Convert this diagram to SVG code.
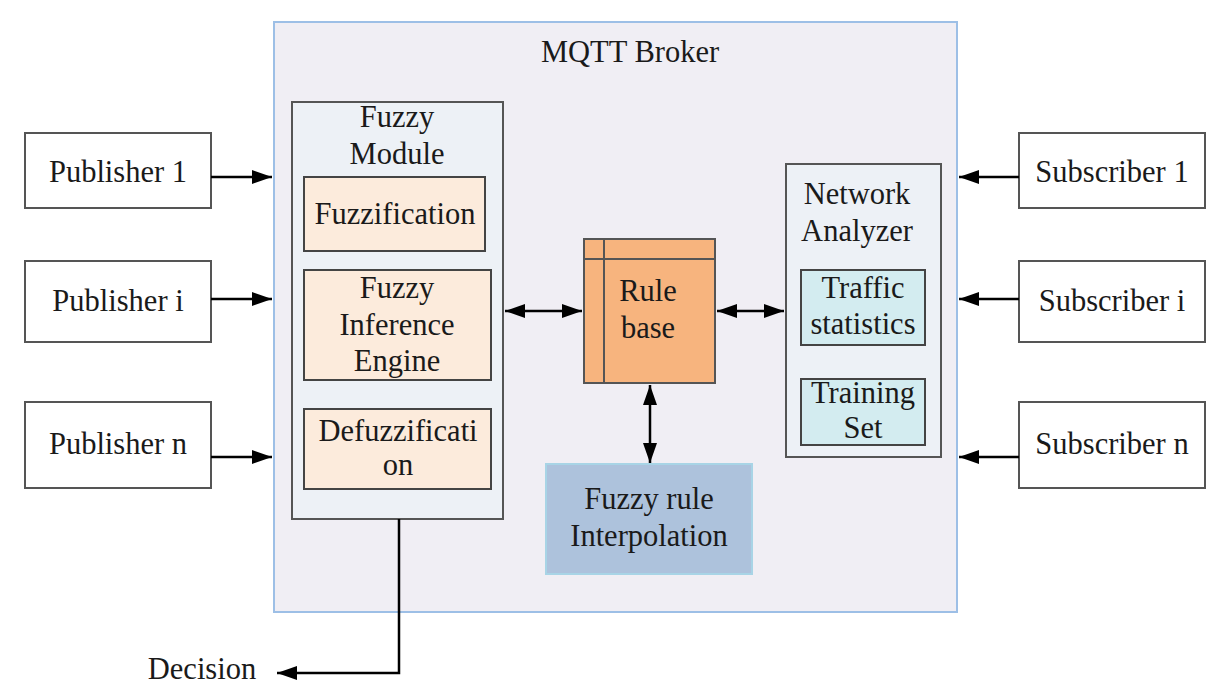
<svg xmlns="http://www.w3.org/2000/svg" width="1216" height="686" viewBox="0 0 1216 686">
<defs>
<marker id="ah" viewBox="0 0 20 14" refX="20" refY="7" markerWidth="20" markerHeight="14" markerUnits="userSpaceOnUse" orient="auto-start-reverse">
<path d="M0,0 L20,7 L0,14 Z" fill="#000"/>
</marker>
<style>
text{font-family:"Liberation Serif","Times New Roman",serif;font-size:30.5px;fill:#1a1a1a;text-anchor:middle}
.box{fill:#fff;stroke:#555;stroke-width:2}
.inner{fill:#fcebdc;stroke:#444;stroke-width:2}
.cont{fill:#edf1f6;stroke:#555;stroke-width:2}
.cyan{fill:#d3ecf0;stroke:#444;stroke-width:2}
.conn{stroke:#000;stroke-width:2.5;fill:none}
</style>
</defs>
<rect width="1216" height="686" fill="#fff"/>
<g id="broker">
<rect x="274" y="22" width="683" height="590" fill="#f0eef4" stroke="#9dbfe6" stroke-width="2"/>
<text x="630" y="62">MQTT Broker</text>
</g>
<g id="fuzzy-module">
<rect class="cont" x="292" y="102" width="211" height="417"/>
<text x="397" y="127">Fuzzy</text>
<text x="397" y="164">Module</text>
</g>
<g id="fuzzification">
<rect class="inner" x="304" y="177" width="181" height="74"/>
<text x="395" y="224">Fuzzification</text>
</g>
<g id="inference">
<rect class="inner" x="304" y="270" width="187" height="110"/>
<text x="397" y="298">Fuzzy</text>
<text x="397" y="335">Inference</text>
<text x="397" y="371">Engine</text>
</g>
<g id="defuzzification">
<rect class="inner" x="304" y="409" width="187" height="80"/>
<text x="398" y="441">Defuzzificati</text>
<text x="398" y="475">on</text>
</g>
<g id="rule-base">
<rect x="584" y="239" width="131" height="144" fill="#f7b47e" stroke="#555" stroke-width="2"/>
<line x1="584" y1="259" x2="715" y2="259" stroke="#555" stroke-width="2"/>
<line x1="604" y1="239" x2="604" y2="383" stroke="#555" stroke-width="2"/>
<text x="648" y="301">Rule</text>
<text x="648" y="338">base</text>
</g>
<g id="interpolation">
<rect x="546" y="464" width="206" height="110" fill="#adc2dc" stroke="#a8d4e6" stroke-width="2"/>
<text x="649" y="509">Fuzzy rule</text>
<text x="649" y="546">Interpolation</text>
</g>
<g id="network-analyzer">
<rect class="cont" x="786" y="164" width="155" height="293"/>
<text x="857" y="204">Network</text>
<text x="857" y="241">Analyzer</text>
</g>
<g id="traffic">
<rect class="cyan" x="801" y="270" width="124" height="75"/>
<text x="863" y="298">Traffic</text>
<text x="863" y="334">statistics</text>
</g>
<g id="training">
<rect class="cyan" x="801" y="379" width="124" height="66"/>
<text x="863" y="403">Training</text>
<text x="863" y="438">Set</text>
</g>
<g id="publisher-1"><rect class="box" x="25" y="133" width="186" height="75"/><text x="118" y="182">Publisher 1</text></g>
<g id="publisher-i"><rect class="box" x="25" y="261" width="186" height="81"/><text x="118" y="311">Publisher i</text></g>
<g id="publisher-n"><rect class="box" x="25" y="402" width="186" height="86"/><text x="118" y="454">Publisher n</text></g>
<g id="subscriber-1"><rect class="box" x="1019" y="133" width="186" height="75"/><text x="1112" y="182">Subscriber 1</text></g>
<g id="subscriber-i"><rect class="box" x="1019" y="261" width="186" height="81"/><text x="1112" y="311">Subscriber i</text></g>
<g id="subscriber-n"><rect class="box" x="1019" y="402" width="186" height="86"/><text x="1112" y="454">Subscriber n</text></g>
<g id="decision-label"><text x="202" y="679">Decision</text></g>
<g id="connectors">
<line class="conn" x1="211" y1="177" x2="272" y2="177" marker-end="url(#ah)"/>
<line class="conn" x1="211" y1="299" x2="272" y2="299" marker-end="url(#ah)"/>
<line class="conn" x1="211" y1="457" x2="272" y2="457" marker-end="url(#ah)"/>
<line class="conn" x1="1019" y1="177" x2="959" y2="177" marker-end="url(#ah)"/>
<line class="conn" x1="1019" y1="299" x2="959" y2="299" marker-end="url(#ah)"/>
<line class="conn" x1="1019" y1="457" x2="959" y2="457" marker-end="url(#ah)"/>
<line class="conn" x1="505" y1="311" x2="582" y2="311" marker-start="url(#ah)" marker-end="url(#ah)"/>
<line class="conn" x1="717" y1="311" x2="784" y2="311" marker-start="url(#ah)" marker-end="url(#ah)"/>
<line class="conn" x1="650" y1="385" x2="650" y2="463" marker-start="url(#ah)" marker-end="url(#ah)"/>
<path class="conn" d="M399,519 V673 H277" marker-end="url(#ah)"/>
</g>
</svg>
